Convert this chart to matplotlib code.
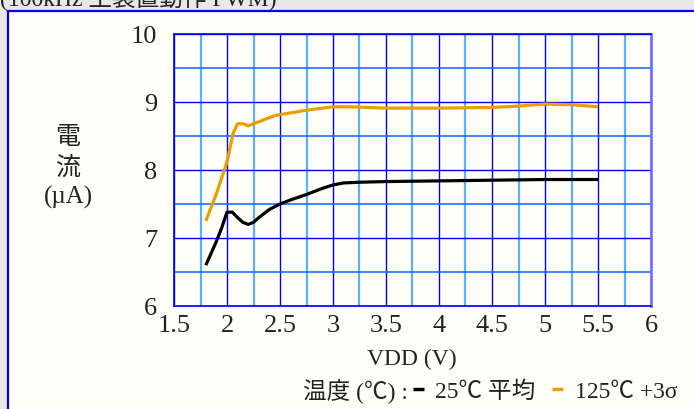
import matplotlib
matplotlib.use('Agg')
from matplotlib import pyplot as plt
from matplotlib.patches import Rectangle
from matplotlib.lines import Line2D
import numpy as np

plt.rcParams['font.family'] = ['Liberation Serif', 'Noto Sans CJK JP']

# 25C average
vdd_avg = [1.8, 1.9, 1.95, 2.0, 2.05, 2.1, 2.15, 2.2, 2.25, 2.3, 2.4, 2.5, 2.6, 2.75,
           2.9, 3.0, 3.1, 3.25, 3.5, 4.0, 4.5, 5.0, 5.5]
cur_avg = [6.60, 6.95, 7.15, 7.38, 7.38, 7.30, 7.23, 7.20, 7.23, 7.30, 7.42, 7.50, 7.56, 7.64,
           7.73, 7.78, 7.81, 7.82, 7.83, 7.84, 7.85, 7.86, 7.86]

# 125C +3sigma
vdd_hi = [1.8, 1.9, 2.0, 2.06, 2.1, 2.15, 2.2, 2.3, 2.45, 2.6, 2.75, 2.9, 3.0, 3.15,
          3.5, 4.0, 4.5, 4.75, 5.0, 5.25, 5.5]
cur_hi = [7.25, 7.65, 8.12, 8.55, 8.68, 8.68, 8.65, 8.71, 8.80, 8.84, 8.88, 8.91, 8.93, 8.93,
          8.91, 8.91, 8.92, 8.94, 8.97, 8.96, 8.93]

x_ticks = [1.5, 2, 2.5, 3, 3.5, 4, 4.5, 5, 5.5, 6]
x_labels = ['1.5', '2', '2.5', '3', '3.5', '4', '4.5', '5', '5.5', '6']
y_ticks = [6, 7, 8, 9, 10]

fs = 17
W, H = 694, 410
fig = plt.figure(figsize=(W/100, H/100), dpi=100, facecolor='#e8e8e8')

# ivory panel with blue border
fig.patches.append(Rectangle((8/W, -0.05), 1.1, 0.05 + (H-12)/H, transform=fig.transFigure,
                             facecolor='#fffff8', edgecolor='#0000ee', lw=1.6, zorder=-10))

fig.text(0, (H-5)/H, '(100kHz 主装置動作 PWM)', fontsize=fs, va='baseline', color='#222222')

ax = fig.add_axes([174/W, (H-307)/H, 477/W, 272/H])
ax.set_facecolor('#fffff8')
ax.set_xlim(1.5, 6)
ax.set_ylim(6, 10)
ax.set_xticks(x_ticks)
ax.set_xticklabels(x_labels)
ax.set_xticks(np.arange(1.75, 6, 0.5), minor=True)
ax.set_yticks(y_ticks)
ax.set_yticks(np.arange(6.5, 10, 1.0), minor=True)
ax.tick_params(which='both', length=0, labelsize=19, colors='#222222')
ax.tick_params(axis='x', pad=6)
ax.tick_params(axis='y', pad=12)

ax.grid(which='major', color='#0000ff', lw=1.0)
ax.grid(which='minor', axis='x', color='#5aaeff', lw=1.6)
ax.grid(which='minor', axis='y', color='#1f6fff', lw=1.2)
ax.set_axisbelow(True)
for s in ax.spines.values():
    s.set_color('#0000ff')
    s.set_linewidth(1.2)
ax.spines['right'].set_color('#7070ff')
ax.spines['right'].set_linewidth(2)

ax.plot(vdd_hi, cur_hi, color='#e8a000', lw=2.3, solid_capstyle='butt')
ax.plot(vdd_avg, cur_avg, color='#000000', lw=2.3, solid_capstyle='butt')

fig.text(68/W, (H-168)/H, '電\n流\n(µA)', fontsize=18, ha='center', va='center',
         linespacing=1.4, color='#222222')
fig.text(412/W, (H-359)/H, 'VDD (V)', fontsize=fs, ha='center', va='center', color='#222222')

fig.text(303/W, (H-392)/H, '温度 (℃) :', fontsize=fs, ha='left', va='center', color='#222222')
handles = [Line2D([], [], color='#000000', lw=2.5, solid_capstyle='butt'),
           Line2D([], [], color='#e8a000', lw=2.5, solid_capstyle='butt')]
fig.legend(handles, ['25℃ 平均', '125℃ +3σ'], loc='center left',
           bbox_to_anchor=(413/W, (H-392)/H), ncol=2, frameon=False, fontsize=fs,
           handlelength=0.45, handletextpad=0.5, columnspacing=0.7, borderpad=0,
           borderaxespad=0, labelcolor='#222222')

fig.savefig('out.png', dpi=100, facecolor=fig.get_facecolor())
